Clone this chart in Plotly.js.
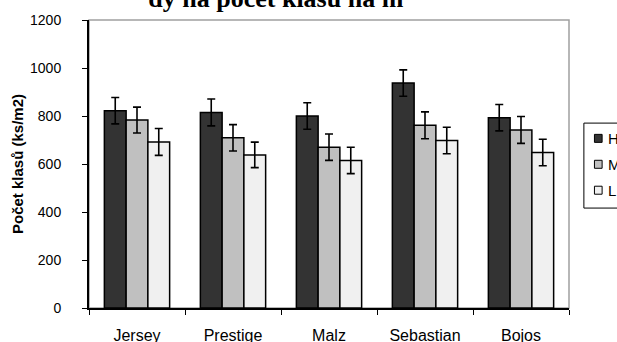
<!DOCTYPE html>
<html>
<head>
<meta charset="utf-8">
<script src="https://cdn.plot.ly/plotly-3.0.1.min.js"></script>
<style>
  html, body { margin: 0; padding: 0; background: #ffffff; }
  #chart { width: 617px; height: 342px; }
</style>
</head>
<body>
<div id="chart"></div>
<script>
// Varieties on the category axis
const varieties = ['Jersey', 'Prestige', 'Malz', 'Sebastian', 'Bojos'];

// Ear counts per m2 for each treatment level
const seriesNames = ['H', 'M', 'L'];
const valuesH = [822, 815, 800, 937, 793];
const valuesM = [783, 709, 670, 761, 742];
const valuesL = [692, 638, 615, 698, 648];

// Error bar half-lengths
const errH = [55, 56, 55, 55, 55];
const errM = [54, 55, 55, 56, 56];
const errL = [56, 53, 55, 55, 55];

const fills = ['#333333', '#c0c0c0', '#f0f0f0'];
const yTicks = [0, 200, 400, 600, 800, 1000, 1200];

const values = [valuesH, valuesM, valuesL];
const errs = [errH, errM, errL];

const traces = seriesNames.map((name, i) => ({
  type: 'bar',
  name: name,
  x: varieties,
  y: values[i],
  marker: { color: fills[i], line: { color: '#000000', width: 1.5 } },
  error_y: { type: 'data', array: errs[i], visible: true, color: '#000000', thickness: 1.6, width: 4 },
  hoverinfo: 'x+y'
}));

// Legend box with swatches, drawn at the right edge
const shapes = [
  { type: 'rect', xref: 'paper', yref: 'paper', x0: 0, x1: 1, y0: 0, y1: 1,
    line: { color: '#a0a0a0', width: 1.5 }, fillcolor: 'rgba(0,0,0,0)', layer: 'below' },
  { type: 'rect', xref: 'paper', yref: 'paper', x0: 1.031, x1: 1.2, y0: 0.347, y1: 0.642,
    line: { color: '#000000', width: 1 }, fillcolor: '#ffffff' }
];
const annotations = [];
const legendRows = [0.589, 0.499, 0.409];
seriesNames.forEach((name, i) => {
  shapes.push({ type: 'rect', xref: 'paper', yref: 'paper',
    x0: 1.053, x1: 1.069, y0: legendRows[i] - 0.0139, y1: legendRows[i] + 0.0139,
    line: { color: '#000000', width: 1 }, fillcolor: fills[i] });
  annotations.push({ xref: 'paper', yref: 'paper', x: 1.078, y: legendRows[i],
    xanchor: 'left', yanchor: 'middle', showarrow: false, text: name,
    font: { family: 'Liberation Sans, Arial, sans-serif', size: 15, color: '#000000' } });
});

const layout = {
  width: 617,
  height: 342,
  margin: { l: 89, r: 48, t: 20, b: 34 },
  paper_bgcolor: '#ffffff',
  plot_bgcolor: '#ffffff',
  showlegend: false,
  barmode: 'group',
  bargap: 0.32,
  bargroupgap: 0,
  title: {
    text: 'dy na počet klasů na m',
    font: { family: 'Liberation Serif, Times New Roman, serif', size: 26, color: '#000000', weight: 'bold' },
    x: 0.447, xanchor: 'center', xref: 'container',
    y: 0.979, yanchor: 'bottom', yref: 'container'
  },
  xaxis: {
    type: 'category',
    showgrid: false,
    showline: true, linecolor: '#000000', linewidth: 2,
    ticks: 'outside', tickson: 'boundaries', ticklen: 5, tickcolor: '#000000', tickwidth: 1,
    ticklabelstandoff: 12,
    tickfont: { family: 'Liberation Sans, Arial, sans-serif', size: 16, color: '#000000' },
    zeroline: false
  },
  yaxis: {
    range: [0, 1200],
    tickvals: yTicks,
    ticktext: yTicks.map(String),
    showgrid: false,
    zeroline: false,
    showline: true, linecolor: '#000000', linewidth: 2,
    ticks: 'outside', ticklen: 5, tickcolor: '#000000', tickwidth: 1,
    ticklabelstandoff: 18,
    tickfont: { family: 'Liberation Sans, Arial, sans-serif', size: 14, color: '#000000' },
    title: {
      text: '<b>Počet klasů (ks/m2)</b>',
      standoff: 3,
      font: { family: 'Liberation Sans, Arial, sans-serif', size: 15, color: '#000000' }
    }
  },
  shapes: shapes,
  annotations: annotations
};

Plotly.newPlot('chart', traces, layout, { displayModeBar: false, staticPlot: true });
</script>
</body>
</html>
